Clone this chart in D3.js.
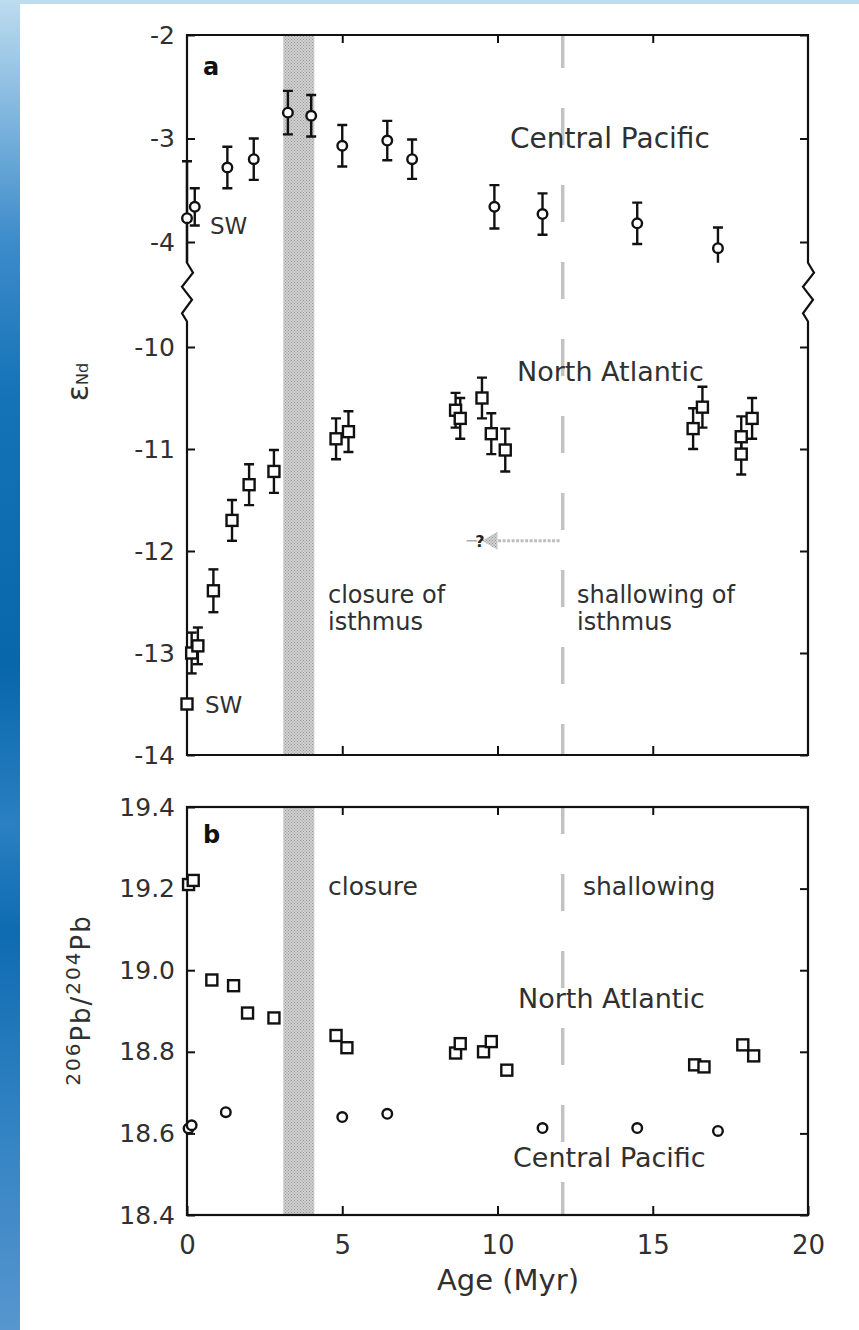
<!DOCTYPE html>
<html><head><meta charset="utf-8">
<script src="https://cdn.jsdelivr.net/npm/d3@7"></script>
<style>html,body{margin:0;padding:0;background:#fff;} svg{display:block;}</style>
</head><body>
<svg id="c" width="859" height="1330"></svg>
<script>
// ---------- DATA ----------
// Panel a: Central Pacific eps-Nd (circles)
const ageCPNd = [0.0, 0.25, 1.3, 2.15, 3.25, 4.0, 5.0, 6.45, 7.25, 9.9, 11.45, 14.5, 17.1];
const valCPNd = [-3.77, -3.66, -3.28, -3.2, -2.75, -2.78, -3.07, -3.02, -3.2, -3.66, -3.73, -3.82, -4.06];
const errCPNd = [0.55, 0.18, 0.2, 0.2, 0.21, 0.2, 0.2, 0.19, 0.19, 0.21, 0.2, 0.2, 0.2];
// Panel a: North Atlantic eps-Nd (squares)
const ageNANd = [0.0, 0.15, 0.35, 0.85, 1.45, 2.0, 2.8, 4.8, 5.2, 8.65, 8.8, 9.5, 9.8, 10.25, 16.3, 16.6, 17.85, 17.85, 18.2];
const valNANd = [-13.5, -13.0, -12.93, -12.39, -11.7, -11.35, -11.22, -10.9, -10.83, -10.62, -10.7, -10.5, -10.85, -11.01, -10.8, -10.59, -10.88, -11.05, -10.7];
const errNANd = [0, 0.2, 0.18, 0.21, 0.2, 0.2, 0.21, 0.2, 0.2, 0.17, 0.2, 0.2, 0.2, 0.21, 0.2, 0.2, 0.2, 0.2, 0.2];
// Panel b: North Atlantic 206Pb/204Pb (squares)
const ageNAPb = [0.05, 0.2, 0.8, 1.5, 1.95, 2.8, 4.8, 5.15, 8.65, 8.8, 9.55, 9.8, 10.3, 16.35, 16.65, 17.9, 18.25];
const valNAPb = [19.21, 19.22, 18.976, 18.962, 18.895, 18.883, 18.84, 18.81, 18.797, 18.82, 18.80, 18.825, 18.755, 18.768, 18.763, 18.817, 18.79];
// Panel b: Central Pacific 206Pb/204Pb (circles)
const ageCPPb = [0.05, 0.15, 1.25, 5.0, 6.45, 11.45, 14.5, 17.1];
const valCPPb = [18.612, 18.62, 18.652, 18.64, 18.648, 18.613, 18.613, 18.606];
// Axis ticks
const xTicks = [0, 5, 10, 15, 20];
const xInnerTicks = [5, 10, 15];
const yTicksA1 = [-4, -3, -2];
const yTicksA2 = [-14, -13, -12, -11, -10];
const yTicksB = [18.4, 18.6, 18.8, 19.0, 19.2, 19.4];
// Events
const closureBand = [3.1, 4.1];
const shallowingAge = 12.1;
const arrowY = -11.9;
const arrowFrom = 12.0, arrowHead = 10.0, arrowTip = 9.5, arrowTail = [9.0, 9.35];

// ---------- SETUP ----------
const W = 859, H = 1330;
const svg = d3.select("#c");
const FONT = "DejaVu Sans, sans-serif";
const TXT = "#303030";
const defs = svg.append("defs");
const grad = defs.append("linearGradient").attr("id", "bg").attr("x1", 0).attr("y1", 0).attr("x2", 0).attr("y2", 1);
[[0, "#bcdcef"], [0.07, "#8cbde2"], [0.18, "#3d8ccb"], [0.3, "#1472b7"], [0.5, "#0866ab"], [0.62, "#2a80c2"], [0.7, "#0f6bb1"], [0.82, "#2b7fc0"], [1, "#5796cf"]]
  .forEach(([o, c]) => grad.append("stop").attr("offset", o).attr("stop-color", c));
const pat = defs.append("pattern").attr("id", "stip").attr("width", 3).attr("height", 3).attr("patternUnits", "userSpaceOnUse");
pat.append("rect").attr("width", 3).attr("height", 3).attr("fill", "#d0d0d0");
pat.append("rect").attr("width", 1).attr("height", 1).attr("fill", "#989898");
pat.append("rect").attr("x", 1.5).attr("y", 1.5).attr("width", 1).attr("height", 1).attr("fill", "#989898");

svg.append("rect").attr("width", W).attr("height", H).attr("fill", "#bcdcef");
svg.append("rect").attr("x", 0).attr("y", 0).attr("width", 20).attr("height", H).attr("fill", "url(#bg)");
svg.append("rect").attr("x", 20).attr("y", 4).attr("width", W - 20).attr("height", H - 4).attr("fill", "#fff");

// Scales
const x = d3.scaleLinear().domain([0, 20]).range([187, 808]);
const yA1 = d3.scaleLinear().domain([-4, -2]).range([242, 35]);
const yA2 = d3.scaleLinear().domain([-14, -10]).range([755, 347]);
const yB = d3.scaleLinear().domain([18.4, 19.4]).range([1215, 807]);
const breakTop = yA1(-4.2), breakBot = yA2(-9.75);
const aTop = yA1(-2), aBot = yA2(-14), bTop = yB(19.4), bBot = yB(18.4);
const X0 = x(0), X1 = x(20);

// clip paths
defs.append("clipPath").attr("id", "clipA1").append("rect").attr("x", X0 - 20).attr("y", aTop - 5).attr("width", X1 - X0 + 40).attr("height", breakTop - aTop + 5);
defs.append("clipPath").attr("id", "clipA2").append("rect").attr("x", X0 - 20).attr("y", breakBot).attr("width", X1 - X0 + 40).attr("height", aBot - breakBot + 5);

// ---------- BACKGROUND FEATURES ----------
function band(top, bot) {
  svg.append("rect").attr("x", x(closureBand[0])).attr("y", top).attr("width", x(closureBand[1]) - x(closureBand[0]))
    .attr("height", bot - top).attr("fill", "url(#stip)");
}
band(aTop, aBot);
band(bTop, bBot);
function dashLine(top, bot, off) {
  svg.append("line").attr("x1", x(shallowingAge)).attr("x2", x(shallowingAge)).attr("y1", top).attr("y2", bot)
    .attr("stroke", "#c2c2c2").attr("stroke-width", 3.5).attr("stroke-dasharray", "37,40").attr("stroke-dashoffset", off);
}
dashLine(aTop, aBot, 4);
dashLine(bTop, bBot, 10);

// arrow "?"
const ay = yA2(arrowY);
svg.append("line").attr("x1", x(arrowFrom)).attr("x2", x(arrowHead)).attr("y1", ay).attr("y2", ay)
  .attr("stroke", "#bdbdbd").attr("stroke-width", 3).attr("stroke-dasharray", "3,1.5");
svg.append("path").attr("d", `M${x(arrowTip)},${ay} L${x(arrowHead)},${ay - 9} L${x(arrowHead)},${ay + 9} Z`).attr("fill", "url(#stip)");
svg.append("line").attr("x1", x(arrowTail[0])).attr("x2", x(arrowTail[1])).attr("y1", ay).attr("y2", ay)
  .attr("stroke", "#aaa").attr("stroke-width", 1.5);
svg.append("text").attr("x", x(arrowTail[1]) - 2).attr("y", ay + 6).attr("font-family", FONT).attr("font-weight", "bold")
  .attr("font-size", 16).attr("fill", "#222").text("?");

// ---------- FRAMES ----------
const zz = [[0, 0], [6, 0.17], [-5, 0.41], [5, 0.63], [-5, 0.86], [0, 1]];
function zig(xx, y0, y1) { return zz.map(([dx, t]) => [xx + dx, y0 + t * (y1 - y0)]); }
const frameA = [[X0, breakTop], [X0, aTop], [X1, aTop], [X1, breakTop], ...zig(X1, breakTop, breakBot).slice(1),
  [X1, aBot], [X0, aBot], [X0, breakBot], ...zig(X0, breakTop, breakBot).reverse().slice(1)];
svg.append("path").attr("d", d3.line()(frameA) + "Z").attr("fill", "none").attr("stroke", "#111").attr("stroke-width", 2.2).attr("stroke-linejoin", "miter");
svg.append("rect").attr("x", X0).attr("y", bTop).attr("width", X1 - X0).attr("height", bBot - bTop)
  .attr("fill", "none").attr("stroke", "#111").attr("stroke-width", 2.2);

// ---------- AXES ----------
function styleAxis(g, fs) {
  g.select(".domain").remove();
  g.selectAll(".tick line").attr("stroke", "#111").attr("stroke-width", 2);
  g.selectAll(".tick text").attr("font-family", FONT).attr("font-size", fs).attr("fill", TXT);
}
const fmtInt = d => String(d);
svg.append("g").attr("transform", `translate(${X0},0)`).call(d3.axisLeft(yA1).tickValues(yTicksA1).tickSize(-8).tickPadding(12).tickFormat(fmtInt)).call(g => styleAxis(g, 25));
svg.append("g").attr("transform", `translate(${X0},0)`).call(d3.axisLeft(yA2).tickValues(yTicksA2).tickSize(-8).tickPadding(12).tickFormat(fmtInt)).call(g => styleAxis(g, 25));
svg.append("g").attr("transform", `translate(${X1},0)`).call(d3.axisRight(yA1).tickValues(yTicksA1).tickSize(-8).tickFormat("")).call(g => styleAxis(g, 25));
svg.append("g").attr("transform", `translate(${X1},0)`).call(d3.axisRight(yA2).tickValues(yTicksA2).tickSize(-8).tickFormat("")).call(g => styleAxis(g, 25));
svg.append("g").attr("transform", `translate(0,${aTop})`).call(d3.axisTop(x).tickValues(xInnerTicks).tickSize(-8).tickFormat("")).call(g => styleAxis(g, 25));
svg.append("g").attr("transform", `translate(0,${aBot})`).call(d3.axisBottom(x).tickValues(xInnerTicks).tickSize(-9).tickFormat("")).call(g => styleAxis(g, 25));

svg.append("g").attr("transform", `translate(${X0},0)`).call(d3.axisLeft(yB).tickValues(yTicksB).tickSize(-8).tickPadding(12).tickFormat(d3.format(".1f"))).call(g => styleAxis(g, 25));
svg.append("g").attr("transform", `translate(${X1},0)`).call(d3.axisRight(yB).tickValues(yTicksB).tickSize(-8).tickFormat("")).call(g => styleAxis(g, 25));
svg.append("g").attr("transform", `translate(0,${bTop})`).call(d3.axisTop(x).tickValues(xInnerTicks).tickSize(-8).tickFormat("")).call(g => styleAxis(g, 25));
svg.append("g").attr("transform", `translate(0,${bBot})`).call(d3.axisBottom(x).tickValues(xTicks).tickSize(-9).tickPadding(21).tickFormat(fmtInt)).call(g => styleAxis(g, 26));

// ---------- MARKS ----------
function zip(a, v, e) { return a.map((d, i) => ({ a: d, v: v[i], e: e ? e[i] : 0 })); }
function errorBars(g, data, y) {
  const sel = g.selectAll(null).data(data.filter(d => d.e > 0)).enter().append("g").attr("stroke", "#111").attr("stroke-width", 2.4);
  sel.append("line").attr("x1", d => x(d.a)).attr("x2", d => x(d.a)).attr("y1", d => y(d.v - d.e)).attr("y2", d => y(d.v + d.e));
  sel.append("line").attr("x1", d => x(d.a) - 5).attr("x2", d => x(d.a) + 5).attr("y1", d => y(d.v - d.e)).attr("y2", d => y(d.v - d.e));
  sel.append("line").attr("x1", d => x(d.a) - 5).attr("x2", d => x(d.a) + 5).attr("y1", d => y(d.v + d.e)).attr("y2", d => y(d.v + d.e));
}
function circles(g, data, y, r) {
  g.selectAll(null).data(data).enter().append("circle").attr("cx", d => x(d.a)).attr("cy", d => y(d.v)).attr("r", r)
    .attr("fill", "#fff").attr("stroke", "#111").attr("stroke-width", 2.4);
}
function squares(g, data, y, s) {
  g.selectAll(null).data(data).enter().append("rect").attr("x", d => x(d.a) - s / 2).attr("y", d => y(d.v) - s / 2)
    .attr("width", s).attr("height", s).attr("fill", "#fff").attr("stroke", "#111").attr("stroke-width", 2.4);
}
const gA1 = svg.append("g").attr("clip-path", "url(#clipA1)");
const cpNd = zip(ageCPNd, valCPNd, errCPNd);
errorBars(gA1, cpNd, yA1);
circles(gA1, cpNd, yA1, 4.8);
const gA2 = svg.append("g").attr("clip-path", "url(#clipA2)");
const naNd = zip(ageNANd, valNANd, errNANd);
errorBars(gA2, naNd, yA2);
squares(gA2, naNd, yA2, 11);
const gB = svg.append("g");
squares(gB, zip(ageNAPb, valNAPb), yB, 11);
circles(gB, zip(ageCPPb, valCPPb), yB, 4.8);

// ---------- TEXT ----------
function txt(xx, yy, s, fs, opts = {}) {
  const t = svg.append("text").attr("x", xx).attr("y", yy).attr("font-family", FONT).attr("font-size", fs)
    .attr("fill", opts.fill || TXT).attr("font-weight", opts.bold ? "bold" : "normal").text(s);
  if (opts.anchor) t.attr("text-anchor", opts.anchor);
  return t;
}
txt(203, 75, "a", 24, { bold: true, fill: "#111" });
txt(203, 843, "b", 24, { bold: true, fill: "#111" });
txt(210, 234, "SW", 23);
txt(205, 713, "SW", 23);
txt(510, 148, "Central Pacific", 28);
txt(517, 381, "North Atlantic", 27);
txt(328, 603, "closure of", 24);
txt(328, 630, "isthmus", 24);
txt(577, 603, "shallowing of", 24);
txt(577, 630, "isthmus", 24);
txt(328, 895, "closure", 25);
txt(583, 895, "shallowing", 25);
txt(518, 1008, "North Atlantic", 27);
txt(513, 1167, "Central Pacific", 27);
txt(508, 1290, "Age (Myr)", 29, { anchor: "middle" });

// y axis titles
const ta = svg.append("text").attr("transform", "translate(88,382) rotate(-90)").attr("text-anchor", "middle")
  .attr("font-family", FONT).attr("fill", TXT);
ta.append("tspan").attr("font-size", 30).text("ε");
ta.append("tspan").attr("font-size", 16).text("Nd");
const tb = svg.append("text").attr("transform", "translate(90,1000) rotate(-90)").attr("text-anchor", "middle")
  .attr("font-family", FONT).attr("fill", TXT).attr("letter-spacing", 2);
tb.append("tspan").attr("font-size", 20).attr("dy", -10).text("206");
tb.append("tspan").attr("font-size", 26).attr("dy", 10).text("Pb/");
tb.append("tspan").attr("font-size", 20).attr("dy", -10).text("204");
tb.append("tspan").attr("font-size", 26).attr("dy", 10).text("Pb");
</script>
</body></html>
